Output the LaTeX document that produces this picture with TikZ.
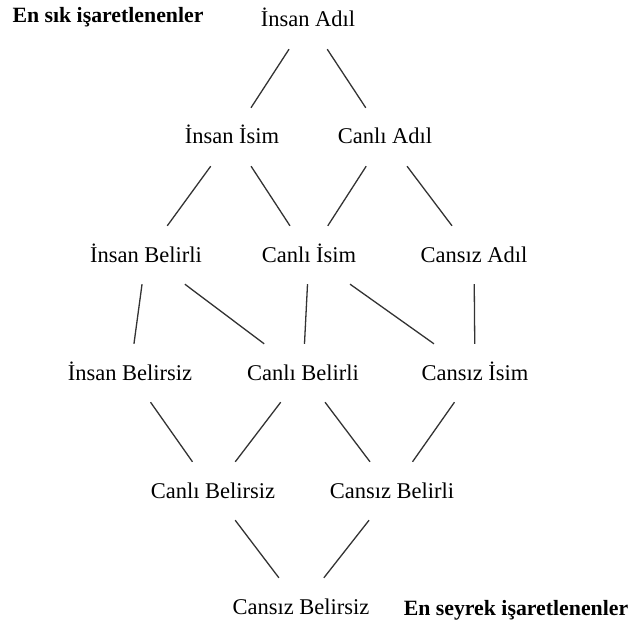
\documentclass[tikz,border=0pt]{standalone}
\usepackage{fontspec}
\setmainfont{Liberation Serif}
\begin{document}
\begin{tikzpicture}[x=1pt,y=-1pt,font=\fontsize{22.5}{27}\selectfont,
  term/.style={minimum width=110pt,minimum height=58pt,inner sep=0pt,text height=17pt,text depth=3pt},
  tag/.style={font=\fontsize{21.8}{26}\selectfont\bfseries,inner sep=0pt,text height=15pt,text depth=5pt},
  link/.style={line width=1.3pt,black!80}]
\useasboundingbox (0,0) rectangle (633,626);

% rows of the lattice
\node[term] (ia) at (308,20) {İnsan Adıl};

\node[term] (ii) at (232,137) {İnsan İsim};
\node[term] (ca) at (385,137) {Canlı Adıl};

\node[term] (ib) at (146,255) {İnsan Belirli};
\node[term] (ci) at (309,255) {Canlı İsim};
\node[term] (sa) at (474,255) {Cansız Adıl};

\node[term] (ibs) at (130,373) {İnsan Belirsiz};
\node[term] (cb) at (303,373) {Canlı Belirli};
\node[term] (si) at (475,373) {Cansız İsim};

\node[term] (cbs) at (213,491) {Canlı Belirsiz};
\node[term] (sb) at (392,491) {Cansız Belirli};

\node[term] (sbs) at (301,607) {Cansız Belirsiz};

\node[tag] (sik) at (108,18) {En sık işaretlenenler};
\node[tag] (seyrek) at (516,610) {En seyrek işaretlenenler};

% links
\draw[link] (ia) -- (ii);
\draw[link] (ia) -- (ca);
\draw[link] (ii) -- (ib);
\draw[link] (ii) -- (ci);
\draw[link] (ca) -- (ci);
\draw[link] (ca) -- (sa);
\draw[link] (ib) -- (ibs);
\draw[link] (ib) -- (cb);
\draw[link] (ci) -- (cb);
\draw[link] (ci) -- (si);
\draw[link] (sa) -- (si);
\draw[link] (ibs) -- (cbs);
\draw[link] (cb) -- (cbs);
\draw[link] (cb) -- (sb);
\draw[link] (si) -- (sb);
\draw[link] (cbs) -- (sbs);
\draw[link] (sb) -- (sbs);

\end{tikzpicture}
\end{document}
